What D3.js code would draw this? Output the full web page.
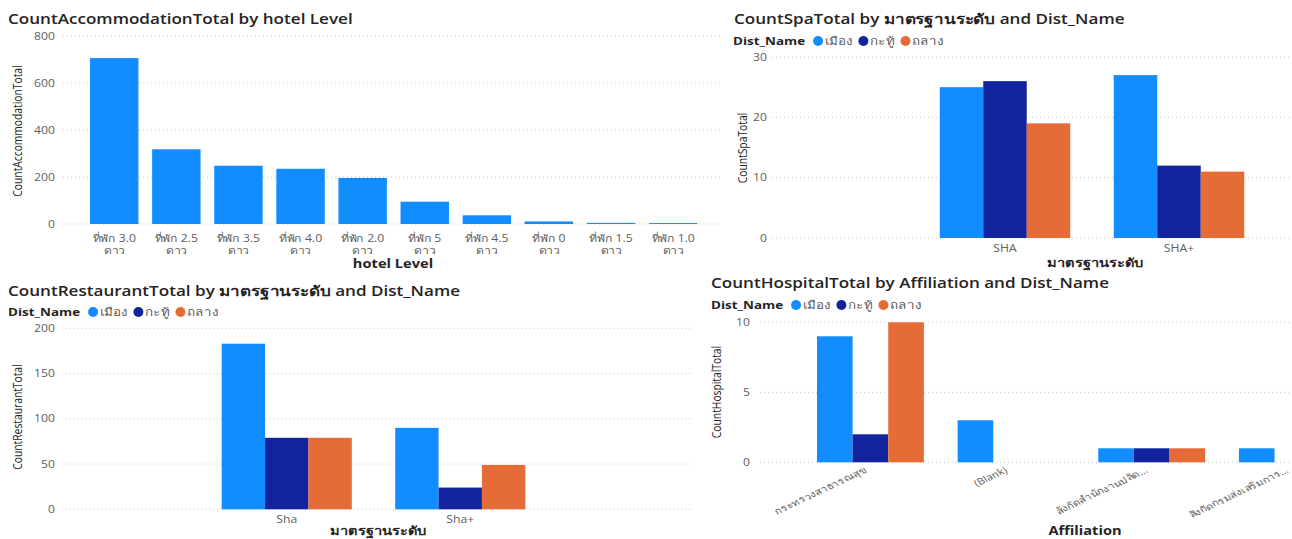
<!DOCTYPE html>
<html>
<head>
<meta charset="utf-8">
<script src="https://cdn.jsdelivr.net/npm/d3@7"></script>
<style>
  body { margin: 0; background: #fff; }
  svg { font-family: "Segoe UI", "Open Sans", "Noto Sans", sans-serif; }
</style>
</head>
<body>
<svg id="chart" width="1292" height="539"></svg>
<script>
// ---- data ----
const hotelLevels = ["ที่พัก 3.0 ดาว", "ที่พัก 2.5 ดาว", "ที่พัก 3.5 ดาว", "ที่พัก 4.0 ดาว", "ที่พัก 2.0 ดาว",
  "ที่พัก 5 ดาว", "ที่พัก 4.5 ดาว", "ที่พัก 0 ดาว", "ที่พัก 1.5 ดาว", "ที่พัก 1.0 ดาว"];
const accommodationTotal = [706, 318, 248, 235, 196, 95, 37, 11, 5, 4];

const districts = ["เมือง", "กะทู้", "ถลาง"];

const spaLevels = ["SHA", "SHA+"];
const spaMueang = [25, 27];
const spaKathu = [26, 12];
const spaThalang = [19, 11];

const restaurantLevels = ["Sha", "Sha+"];
const restaurantMueang = [183, 90];
const restaurantKathu = [79, 24];
const restaurantThalang = [79, 49];

const affiliations = ["กระทรวงสาธารณสุข", "(Blank)", "สังกัดสำนักงานปลัด…", "สังกัดกรมส่งเสริมการ…"];
const hospitalMueang = [9, 3, 1, 1];
const hospitalKathu = [2, null, 1, null];
const hospitalThalang = [10, null, 1, null];

const colors = ["#118DFF", "#12239E", "#E66C37"];
const titleColor = "#252423";
const labelColor = "#605E5C";
// the screenshot is stretched sideways, so text is widened by this factor
const SX = 1.22;

const svg = d3.select("#chart");

// text placed at (x, y) and widened horizontally
function label(g, x, y, s, size, anchor, color, weight) {
  return g.append("text")
    .attr("transform", `translate(${x},${y}) scale(${SX},1)`)
    .attr("text-anchor", anchor || "start")
    .attr("font-size", size)
    .attr("font-weight", weight || 400)
    .attr("fill", color || labelColor)
    .text(s);
}

function gridAndYAxis(g, y, ticks, x0, x1, labelX) {
  g.selectAll(".grid")
    .data(ticks)
    .enter()
    .append("line")
    .attr("x1", x0)
    .attr("x2", x1)
    .attr("y1", (d) => y(d))
    .attr("y2", (d) => y(d))
    .attr("stroke", "#C8C6C4")
    .attr("stroke-dasharray", "1 3");
  ticks.forEach((d) => {
    label(g, labelX, y(d) + 3.5, d, 10, "end");
  });
}

function title(g, x, y, txt) {
  label(g, x, y, txt, 14, "start", titleColor, 600);
}

function yTitle(g, x, y, txt) {
  g.append("text")
    .attr("transform", `translate(${x},${y}) rotate(-90) scale(1,${SX})`)
    .attr("text-anchor", "middle")
    .attr("dy", "0.35em")
    .attr("font-size", 10.3)
    .attr("fill", titleColor)
    .text(txt);
}

function xTitle(g, x, y, txt) {
  label(g, x, y, txt, 12, "middle", titleColor, 700);
}

function legend(g, x, y) {
  const head = label(g, x, y + 4, "Dist_Name", 11, "start", titleColor, 700);
  let cx = x + head.node().getComputedTextLength() * SX + 13;
  districts.forEach((name, i) => {
    g.append("circle").attr("cx", cx).attr("cy", y).attr("r", 5).attr("fill", colors[i]);
    const t = label(g, cx + 7, y + 4, name, 11);
    cx += 7 + t.node().getComputedTextLength() * SX + 11;
  });
}

function groupedBars(g, cats, series, x, y) {
  const sub = d3.scaleBand().domain(d3.range(series.length)).range([0, x.bandwidth()]);
  cats.forEach((c, ci) => {
    const vals = series.map((s) => s[ci]);
    g.append("g")
      .attr("transform", `translate(${x(c)},0)`)
      .selectAll("rect")
      .data(vals.map((v, i) => ({ v, i })).filter((d) => d.v != null))
      .enter()
      .append("rect")
      .attr("x", (d) => sub(d.i))
      .attr("y", (d) => y(d.v))
      .attr("width", sub.bandwidth())
      .attr("height", (d) => y(0) - y(d.v))
      .attr("fill", (d) => colors[d.i]);
  });
}

// ---- chart 1: accommodation ----
{
  const g = svg.append("g");
  title(g, 8, 24, "CountAccommodationTotal by hotel Level");
  const y = d3.scaleLinear().domain([0, 800]).range([224, 36]);
  gridAndYAxis(g, y, [0, 200, 400, 600, 800], 63, 720, 55);
  const x = d3.scaleBand().domain(hotelLevels).range([83.2, 704.2]).paddingInner(0.22).paddingOuter(0.11);
  g.selectAll(".bar")
    .data(hotelLevels)
    .enter()
    .append("rect")
    .attr("x", (d) => x(d))
    .attr("y", (d, i) => y(accommodationTotal[i]))
    .attr("width", x.bandwidth())
    .attr("height", (d, i) => y(0) - y(accommodationTotal[i]))
    .attr("fill", colors[0]);
  hotelLevels.forEach((d) => {
    const cut = d.lastIndexOf(" ");
    const cx = x(d) + x.bandwidth() / 2;
    label(g, cx, 242, d.slice(0, cut), 10, "middle");
    label(g, cx, 254, d.slice(cut + 1), 10, "middle");
  });
  xTitle(g, 393, 268, "hotel Level");
  yTitle(g, 18, 131, "CountAccommodationTotal");
}

// ---- chart 2: spa ----
{
  const g = svg.append("g");
  title(g, 734, 24, "CountSpaTotal by มาตรฐานระดับ and Dist_Name");
  legend(g, 733, 41);
  const y = d3.scaleLinear().domain([0, 30]).range([238, 57]);
  gridAndYAxis(g, y, [0, 10, 20, 30], 772, 1292, 767);
  const x = d3.scaleBand().domain(spaLevels).range([918, 1266]).paddingInner(0.25).paddingOuter(0.125);
  groupedBars(g, spaLevels, [spaMueang, spaKathu, spaThalang], x, y);
  spaLevels.forEach((d) => {
    label(g, x(d) + x.bandwidth() / 2, 252, d, 10, "middle");
  });
  xTitle(g, 1095, 267, "มาตรฐานระดับ");
  yTitle(g, 743, 148, "CountSpaTotal");
}

// ---- chart 3: restaurant ----
{
  const g = svg.append("g");
  title(g, 8, 296, "CountRestaurantTotal by มาตรฐานระดับ and Dist_Name");
  legend(g, 8, 312);
  const y = d3.scaleLinear().domain([0, 200]).range([509.3, 328.3]);
  gridAndYAxis(g, y, [0, 50, 100, 150, 200], 65, 690, 55);
  const x = d3.scaleBand().domain(restaurantLevels).range([200, 547]).paddingInner(0.25).paddingOuter(0.125);
  groupedBars(g, restaurantLevels, [restaurantMueang, restaurantKathu, restaurantThalang], x, y);
  restaurantLevels.forEach((d) => {
    label(g, x(d) + x.bandwidth() / 2, 523, d, 10, "middle");
  });
  xTitle(g, 378, 535, "มาตรฐานระดับ");
  yTitle(g, 18, 417, "CountRestaurantTotal");
}

// ---- chart 4: hospital ----
{
  const g = svg.append("g");
  title(g, 711, 288, "CountHospitalTotal by Affiliation and Dist_Name");
  legend(g, 711, 305);
  const y = d3.scaleLinear().domain([0, 10]).range([462.3, 322.3]);
  gridAndYAxis(g, y, [0, 5, 10], 760, 1292, 750);
  const x = d3.scaleBand().domain(affiliations).range([799.4, 1363.4]).paddingInner(0.24).paddingOuter(0.125);
  groupedBars(g, affiliations, [hospitalMueang, hospitalKathu, hospitalThalang], x, y);
  affiliations.forEach((d) => {
    const cx = x(d) + x.bandwidth() / 2 - 3;
    g.append("text")
      .attr("transform", `translate(${cx},472) scale(${SX},1) rotate(-30)`)
      .attr("text-anchor", "end")
      .attr("font-size", 9.3)
      .attr("fill", labelColor)
      .text(d);
  });
  xTitle(g, 1085, 535, "Affiliation");
  yTitle(g, 717, 392, "CountHospitalTotal");
}
</script>
</body>
</html>
